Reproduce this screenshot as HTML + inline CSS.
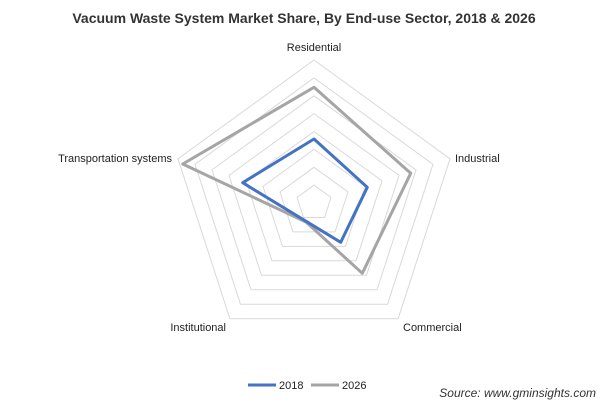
<!DOCTYPE html>
<html><head><style>
body{margin:0;background:#fff;}
svg{display:block;font-family:"Liberation Sans",sans-serif;}
</style></head><body>
<svg width="609" height="405" viewBox="0 0 609 405">
<text x="304" y="23" text-anchor="middle" font-size="14" font-weight="bold" fill="#333">Vacuum Waste System Market Share, By End-use Sector, 2018 &amp; 2026</text>
<g fill="none" stroke="#d9d9d9" stroke-width="1">
<polygon points="314,185.1 331,197.5 324.5,217.5 303.5,217.5 297,197.5"/>
<polygon points="314,167.3 348,192 335,231.9 293,231.9 280,192"/>
<polygon points="314,149.4 365,186.4 345.5,246.4 282.5,246.4 263,186.4"/>
<polygon points="314,131.5 382,180.9 356,260.8 272,260.8 246,180.9"/>
<polygon points="314,113.6 399,175.4 366.5,275.3 261.5,275.3 229,175.4"/>
<polygon points="314,95.8 416,169.9 377,289.8 251,289.8 212,169.9"/>
<polygon points="314,77.9 433,164.3 387.5,304.2 240.5,304.2 195,164.3"/>
<polygon points="314,60 450,158.8 398.1,318.7 229.9,318.7 178,158.8"/>
</g>
<text x="314" y="51" text-anchor="middle" font-size="11" fill="#222">Residential</text>
<text x="455" y="162" font-size="11" fill="#222">Industrial</text>
<text x="403" y="331" font-size="11" fill="#222">Commercial</text>
<text x="226" y="331" text-anchor="end" font-size="11" fill="#222">Institutional</text>
<text x="172" y="162" text-anchor="end" font-size="11" fill="#222">Transportation systems</text>
<polygon points="314,87.3 410.7,173.3 362.3,273.3 306,222 182.7,164" fill="none" stroke="#a5a5a5" stroke-width="3" stroke-linejoin="round"/>
<polygon points="314,139 367.3,187.3 340.7,242.3 306.7,221.7 242.7,182.7" fill="none" stroke="#4472c4" stroke-width="3" stroke-linejoin="round"/>
<line x1="248" y1="385" x2="276" y2="385" stroke="#4472c4" stroke-width="3"/>
<text x="279" y="389" font-size="11" fill="#222">2018</text>
<line x1="311" y1="385" x2="339" y2="385" stroke="#a5a5a5" stroke-width="3"/>
<text x="342" y="389" font-size="11" fill="#222">2026</text>
<text x="596" y="397" text-anchor="end" font-size="12" font-style="italic" fill="#333">Source: www.gminsights.com</text>
</svg>
</body></html>
